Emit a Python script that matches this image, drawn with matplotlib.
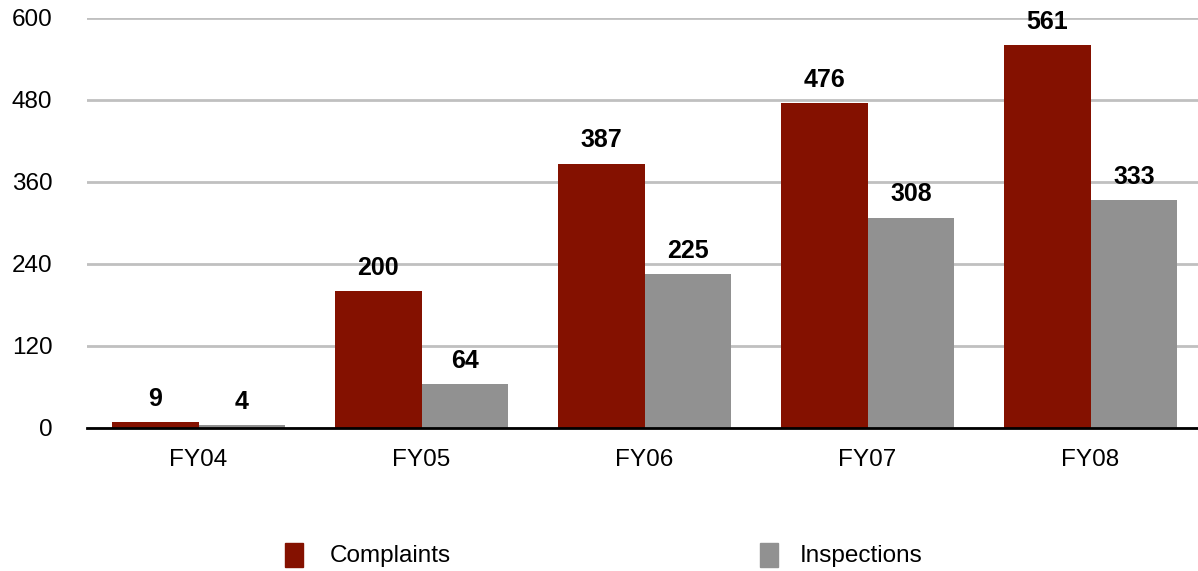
import matplotlib
matplotlib.use("Agg")
import matplotlib.pyplot as plt
from matplotlib.patches import Rectangle
import numpy as np

categories = ["FY04", "FY05", "FY06", "FY07", "FY08"]
complaints = [9, 200, 387, 476, 561]
inspections = [4, 64, 225, 308, 333]
yticks = [0, 120, 240, 360, 480, 600]
series_names = ["Complaints", "Inspections"]
colors = ["#841100", "#919191"]

plt.rcParams["font.family"] = ["Liberation Sans", "DejaVu Sans"]

W, H = 1198, 571
fig = plt.figure(figsize=(W / 100, H / 100), dpi=100)
ax = fig.add_axes([87 / W, 1 - 428 / H, 1115 / W, (428 - 18) / H])

x = np.arange(len(categories))
bw = 0.39
b1 = ax.bar(x - bw / 2, complaints, bw, color=colors[0], zorder=3)
b2 = ax.bar(x + bw / 2, inspections, bw, color=colors[1], zorder=3)

for bars, vals in ((b1, complaints), (b2, inspections)):
    for r, v in zip(bars, vals):
        ax.annotate(str(v), (r.get_x() + r.get_width() / 2, v),
                    xytext=(0, 8), textcoords="offset points",
                    ha="center", va="bottom", fontsize=18, fontweight="bold",
                    zorder=4)

ax.set_xlim(-0.5, len(categories) - 0.5)
ax.set_ylim(0, 600)
ax.set_yticks(yticks)
ax.set_yticklabels([str(t) for t in yticks])
ax.set_xticks(x)
ax.set_xticklabels(categories)
ax.tick_params(axis="both", length=0, labelsize=17.5)
ax.tick_params(axis="y", pad=25)
ax.tick_params(axis="x", pad=15)

ax.grid(axis="y", color="#c0c0c0", linewidth=2, zorder=0)
for s in ["top", "right", "left"]:
    ax.spines[s].set_visible(False)
ax.spines["bottom"].set_linewidth(2)
ax.spines["bottom"].set_color("black")
ax.spines["bottom"].set_zorder(5)

# legend
leg_items = [(285, 330), (760, 800)]
for (sx, tx), name, c in zip(leg_items, series_names, colors):
    fig.patches.append(Rectangle((sx / W, 1 - 567 / H), 18 / W, 24 / H,
                                 transform=fig.transFigure, color=c))
    fig.text(tx / W, 1 - 556 / H, name, fontsize=17.5, va="center", ha="left")

fig.savefig("out.png", dpi=100)
